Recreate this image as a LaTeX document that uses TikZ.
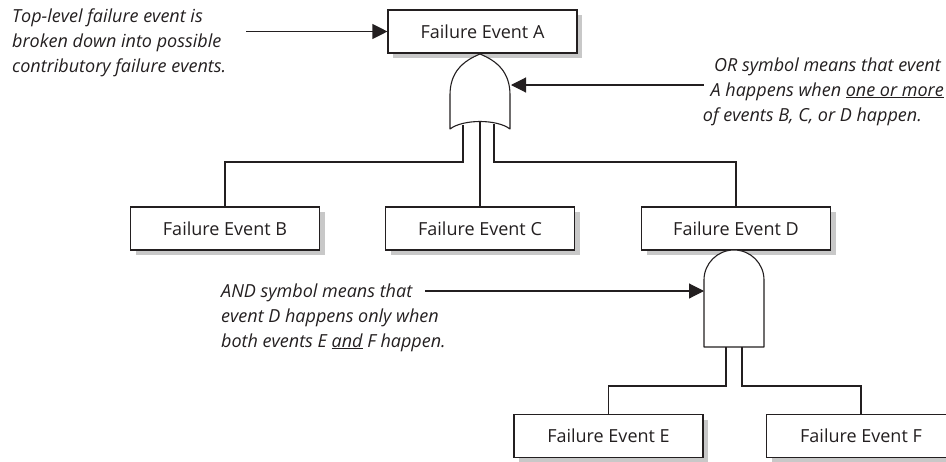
\documentclass[tikz,border=0pt]{standalone}
\usepackage{fontspec}
\setmainfont{Open Sans}
\usetikzlibrary{arrows.meta,shadows}
\definecolor{ink}{HTML}{231F20}
\definecolor{shade}{HTML}{C8C8C8}
\begin{document}
\begin{tikzpicture}[x=1pt,y=-1pt,
  ev/.style={draw=ink, fill=white, line width=1.1pt, minimum width=189pt, minimum height=43pt,
    inner sep=0pt, text=ink, font=\fontsize{18}{21}\selectfont,
    drop shadow={shadow xshift=5pt, shadow yshift=-5pt, fill=shade, opacity=1}},
  wire/.style={draw=ink, line width=1.1pt},
  pointer/.style={draw=ink, line width=1.1pt, -{Triangle[length=15pt,width=15pt]}},
  gate/.style={draw=ink, fill=white, line width=1.1pt, line join=round},
  note/.style={anchor=base west, inner sep=0pt, text=ink, font=\fontsize{18}{25}\selectfont\itshape},
  noter/.style={note, anchor=base east}
]
\useasboundingbox (0,0) rectangle (946,461);

% event boxes
\node[ev] (A) at (482.5,31.5) {Failure Event A};
\node[ev] (B) at (225,228.5) {Failure Event B};
\node[ev] (C) at (480,228.5) {Failure Event C};
\node[ev] (D) at (736,228.5) {Failure Event D};
\node[ev] (E) at (608.5,436) {Failure Event E};
\node[ev] (F) at (861,436) {Failure Event F};

% OR gate
\draw[gate] (450,129) -- (450,95) .. controls (450,72) and (463,61) .. (480,54)
  .. controls (497,61) and (510,72) .. (510,95) -- (510,129)
  .. controls (497,119) and (463,119) .. cycle;
\coordinate (orL) at (463,124.5);
\coordinate (orM) at (480,121);
\coordinate (orR) at (494,124);
\coordinate (orIn) at (511,85);
\coordinate (jA) at (0,162);

% AND gate
\draw[gate] (704,347) -- (704,280) arc[start angle=180, end angle=360, radius=30] -- (764,347) -- cycle;
\coordinate (andL) at (726,347);
\coordinate (andR) at (742,347);
\coordinate (andIn) at (704,291);
\coordinate (jB) at (0,386);

% connectors
\draw[wire] (orL) -- (orL |- jA) -| (B.north);
\draw[wire] (orM) -- (C.north);
\draw[wire] (orR) -- (orR |- jA) -| (D.north);
\draw[wire] (andL) -- (andL |- jB) -| (E.north);
\draw[wire] (andR) -- (andR |- jB) -| (F.north);

% notes
\node[note] (t1) at (12,22) {Top-level failure event is};
\node[note] (t2) at (12,47) {broken down into possible};
\node[note] (t3) at (12,72) {contributory failure events.};
\coordinate (tEnd) at (246,31.5);
\draw[pointer] (tEnd) -- (A.west);

\node[noter] (o1) at (941,71) {OR symbol means that event};
\node[noter] (o2) at (944,96) {A happens when \underline{one or more}};
\node[noter] (o3) at (922,121) {of events B, C, or D happen.};
\path ([xshift=-7pt]o2.base west) coordinate (oTmp);
\coordinate (oEnd) at (oTmp |- orIn);
\draw[pointer] (oEnd) -- (orIn);

\node[note] (n1) at (221,297) {AND symbol means that};
\node[note] (n2) at (221,322) {event D happens only when};
\node[note] (n3) at (221,347) {both events E \underline{and} F happen.};
\path ([xshift=13pt]n1.base east) coordinate (nTmp);
\coordinate (nEnd) at (nTmp |- andIn);
\draw[pointer] (nEnd) -- (andIn);
\end{tikzpicture}
\end{document}
